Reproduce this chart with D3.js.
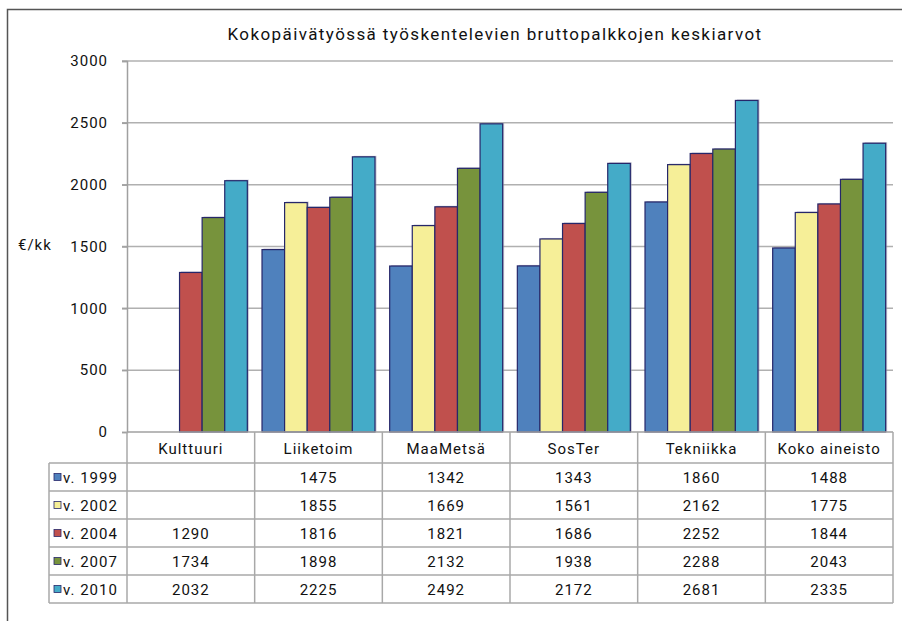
<!DOCTYPE html>
<html><head><meta charset="utf-8">
<script src="https://cdn.jsdelivr.net/npm/d3@7"></script>
<style>body{margin:0;background:#fff}svg{display:block;font-family:Roboto,"DejaVu Sans",sans-serif}</style>
</head><body><svg id="c" width="902" height="621"></svg>
<script>
const title = "Kokopäivätyössä työskentelevien bruttopalkkojen keskiarvot";
const categories = ["Kulttuuri","Liiketoim","MaaMetsä","SosTer","Tekniikka","Koko aineisto"];
const seriesNames = ["v. 1999","v. 2002","v. 2004","v. 2007","v. 2010"];
const v1999 = [null,1475,1342,1343,1860,1488];
const v2002 = [null,1855,1669,1561,2162,1775];
const v2004 = [1290,1816,1821,1686,2252,1844];
const v2007 = [1734,1898,2132,1938,2288,2043];
const v2010 = [2032,2225,2492,2172,2681,2335];
const yTicks = [0,500,1000,1500,2000,2500,3000];
const yLabel = "€/kk";
const colors = ["#4F81BD","#F6EF98","#C0504D","#77933C","#44ABC8"];

const series = [v1999,v2002,v2004,v2007,v2010];
const svg = d3.select("#c");
const L = 127, R = 893, T = 61, B = 432;
const FS = 15, LS = "1px";
const x = d3.scaleBand().domain(categories).range([L,R]).paddingInner(0).paddingOuter(0);
const y = d3.scaleLinear().domain([0,3000]).range([B,T]);
const inner = d3.scaleBand().domain(seriesNames).range([0,x.bandwidth()]).paddingInner(0).paddingOuter(0.325);

// outer frame
svg.append("path").attr("d","M7.5,621 V9.5 H902").attr("fill","none").attr("stroke","#555").attr("stroke-width",1.5);

// title
svg.append("text").attr("x",495).attr("y",40).attr("text-anchor","middle").attr("font-size",17)
  .attr("letter-spacing","1.4px").attr("fill","#111").text(title);

// gridlines
svg.append("g").selectAll("line").data(yTicks.filter(d=>d>0)).join("line")
  .attr("x1",L-5).attr("x2",R).attr("y1",d=>y(d)).attr("y2",d=>y(d))
  .attr("stroke","#b0b0b0").attr("stroke-width",1.5);
// axis
const ax = d3.axisLeft(y).tickValues(yTicks).tickSize(5).tickPadding(14).tickFormat(d3.format("d"));
const ag = svg.append("g").attr("transform",`translate(${L},0)`).call(ax);
ag.select(".domain").attr("stroke","#a0a0a0").attr("stroke-width",1.5);
ag.selectAll(".tick line").attr("stroke","#a0a0a0").attr("stroke-width",1.5);
ag.selectAll(".tick text").attr("font-size",FS).attr("letter-spacing",LS).attr("fill","#111").attr("font-family","Roboto,sans-serif");
svg.append("text").attr("x",18).attr("y",250).attr("font-size",FS).attr("letter-spacing",LS).attr("fill","#111").text(yLabel);

// bars
const flat = [];
series.forEach((s,si)=>s.forEach((v,ci)=>{ if(v!=null) flat.push({si,ci,v}); }));
const bx = d => x(categories[d.ci]) + inner(seriesNames[d.si]);
svg.append("g").selectAll("rect.sh").data(flat).join("rect")
  .attr("x",d=>bx(d)+1.5).attr("y",d=>y(d.v)-1).attr("width",inner.bandwidth()).attr("height",d=>B-y(d.v)+1)
  .attr("fill","#9a9ab0").attr("opacity",0.6);
svg.append("g").selectAll("rect.b").data(flat).join("rect")
  .attr("x",d=>bx(d)).attr("y",d=>y(d.v)).attr("width",inner.bandwidth()).attr("height",d=>B-y(d.v))
  .attr("fill",d=>colors[d.si]).attr("stroke","#26276a").attr("stroke-width",1.2);

// x axis line
svg.append("line").attr("x1",L).attr("x2",R).attr("y1",B).attr("y2",B).attr("stroke","#a0a0a0").attr("stroke-width",1.5);

// data table
const hdrB = 463, rowH = 28, tblL = 49;
const rowY = i => hdrB + i*rowH;
const tg = svg.append("g").attr("stroke","#a8a8a8").attr("stroke-width",1.5);
for (let i=0;i<=seriesNames.length;i++) tg.append("line").attr("x1",tblL).attr("x2",R).attr("y1",rowY(i)).attr("y2",rowY(i));
tg.append("line").attr("x1",tblL).attr("x2",tblL).attr("y1",hdrB).attr("y2",rowY(seriesNames.length));
categories.forEach(c=>tg.append("line").attr("x1",x(c)).attr("x2",x(c)).attr("y1",B).attr("y2",rowY(seriesNames.length)));
tg.append("line").attr("x1",R).attr("x2",R).attr("y1",B).attr("y2",rowY(seriesNames.length));
// header text
svg.append("g").selectAll("text").data(categories).join("text")
  .attr("x",d=>x(d)+x.bandwidth()/2).attr("y",(B+hdrB)/2+6).attr("text-anchor","middle")
  .attr("font-size",FS).attr("letter-spacing",LS).attr("fill","#111").text(d=>d);
// row labels + keys
seriesNames.forEach((n,i)=>{
  const cy = rowY(i)+rowH/2;
  svg.append("rect").attr("x",54).attr("y",cy-3.5).attr("width",7).attr("height",7)
    .attr("fill",colors[i]).attr("stroke","#26276a").attr("stroke-width",0.8);
  svg.append("text").attr("x",63).attr("y",cy+5.5).attr("font-size",FS).attr("letter-spacing",LS).attr("fill","#111").text(n);
  series[i].forEach((v,ci)=>{
    if(v==null) return;
    svg.append("text").attr("x",x(categories[ci])+x.bandwidth()/2).attr("y",cy+5.5)
      .attr("text-anchor","middle").attr("font-size",FS).attr("letter-spacing",LS).attr("fill","#111").text(v);
  });
});
</script></body></html>
